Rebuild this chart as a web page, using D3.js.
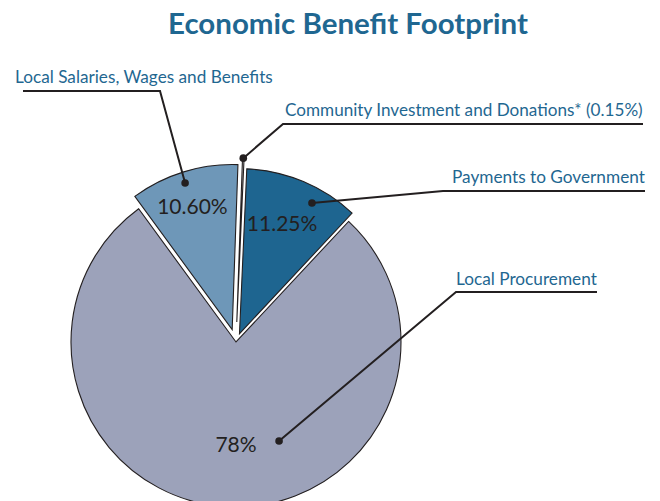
<!DOCTYPE html>
<html>
<head>
<meta charset="utf-8">
<script src="https://cdn.jsdelivr.net/npm/d3@7"></script>
<style>
  html, body { margin: 0; padding: 0; background: #ffffff; }
  svg { display: block; }
</style>
</head>
<body>
<svg id="chart" width="660" height="501"></svg>
<script>
// ---- data ----
const title = "Economic Benefit Footprint";
const categories = [
  "Community Investment and Donations* (0.15%)",
  "Payments to Government",
  "Local Procurement",
  "Local Salaries, Wages and Benefits"
];
const values = [0.15, 11.25, 78, 10.60];
const valueLabels = ["", "11.25%", "78%", "10.60%"];

// ---- styles / layout ----
const colors = ["#e4e4e4", "#1e6590", "#9ca2ba", "#6e97b8"];
const explode = [20, 9, 0, 13];
const W = 660, H = 501;
const cx = 236, cy = 342, R = 165;
const startDeg = 2;
const ink = "#231f20";
const labelColor = "#1f6791";

// leader layout: text start x, baseline y, target width, line points (label side), dot polar (deg, r) from slice apex
const leaders = [
  { tx: 285, ty: 116, tw: 358, pts: [[643, 124], [283, 124]], dot: null },
  { tx: 452, ty: 182.5, tw: 193, pts: [[645, 191], [443, 191]], dot: [29, 149.5] },
  { tx: 456, ty: 284.5, tw: 141, pts: [[597, 292], [456, 292]], dot: [156.5, 108] },
  { tx: 15, ty: 83, tw: 258, pts: [[23, 91], [160, 91]], dot: [342.2, 154] }
];
// value label polar positions (deg, r) from slice apex
const valuePos = [null, [21, 119], [180, 101], [342.2, 130]];

const svg = d3.select("#chart");
const rad = d => d * Math.PI / 180;

const pie = d3.pie().sort(null).value(d => d)
  .startAngle(rad(startDeg)).endAngle(rad(startDeg + 360));
const arcs = pie(values);
const arcGen = d3.arc().innerRadius(0).outerRadius(R);

function apex(a, i) {
  const m = (a.startAngle + a.endAngle) / 2;
  return [cx + explode[i] * Math.sin(m), cy - explode[i] * Math.cos(m)];
}
function polar(p, deg, r) {
  return [p[0] + r * Math.sin(rad(deg)), p[1] - r * Math.cos(rad(deg))];
}

// slices
const g = svg.append("g");
g.selectAll("path.slice")
  .data(arcs)
  .join("path")
  .attr("class", "slice")
  .attr("transform", (a, i) => `translate(${apex(a, i)})`)
  .attr("d", arcGen)
  .attr("fill", (a, i) => colors[i])
  .attr("stroke", ink)
  .attr("stroke-width", 1.1)
  .attr("stroke-linejoin", "miter");

// title
const t = svg.append("text")
  .attr("x", 348).attr("y", 34)
  .attr("text-anchor", "middle")
  .attr("font-family", "Lato, 'Open Sans', sans-serif")
  .attr("font-weight", 700)
  .attr("font-size", 26)
  .attr("fill", labelColor)
  .text(title);
(function fit(el, target) {
  const w = el.node().getComputedTextLength();
  const fs = +el.attr("font-size");
  el.attr("font-size", fs * target / w);
})(t, 360);

// value labels
arcs.forEach((a, i) => {
  if (!valueLabels[i] || !valuePos[i]) return;
  const p = polar(apex(a, i), valuePos[i][0], valuePos[i][1]);
  svg.append("text")
    .attr("x", p[0]).attr("y", p[1])
    .attr("text-anchor", "middle")
    .attr("dominant-baseline", "central")
    .attr("font-family", "Lato, 'Open Sans', sans-serif")
    .attr("font-size", 21)
    .attr("fill", ink)
    .text(valueLabels[i]);
});

// leader lines, dots, category labels
arcs.forEach((a, i) => {
  const L = leaders[i];
  const ap = apex(a, i);
  let dot;
  if (L.dot) {
    dot = polar(ap, L.dot[0], L.dot[1]);
  } else {
    const m = (a.startAngle + a.endAngle) / 2 * 180 / Math.PI;
    dot = polar(ap, m, R - 1);
  }
  const pts = L.pts.concat([dot]);
  svg.append("path")
    .attr("d", d3.line()(pts))
    .attr("fill", "none")
    .attr("stroke", ink)
    .attr("stroke-width", 2);
  svg.append("circle")
    .attr("cx", dot[0]).attr("cy", dot[1]).attr("r", 3.8)
    .attr("fill", ink);
  const txt = svg.append("text")
    .attr("x", L.tx).attr("y", L.ty)
    .attr("font-family", "Lato, 'Open Sans', sans-serif")
    .attr("font-size", 16)
    .attr("fill", labelColor)
    .text(categories[i]);
  const w = txt.node().getComputedTextLength();
  txt.attr("font-size", 16 * L.tw / w);
});
</script>
</body>
</html>
